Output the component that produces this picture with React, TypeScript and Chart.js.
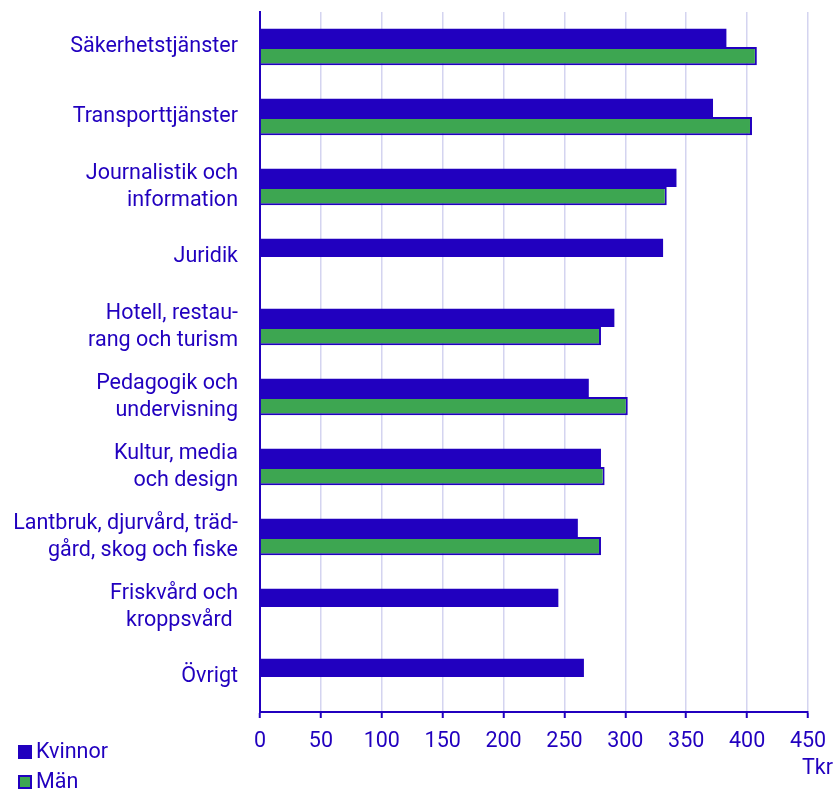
import React, { useEffect, useRef } from "react";
import { Chart, registerables } from "chart.js";

Chart.register(...registerables);

const categories: (string | string[])[] = [
  "Säkerhetstjänster",
  "Transporttjänster",
  ["Journalistik och", "information"],
  "Juridik",
  ["Hotell, restau-", "rang och turism"],
  ["Pedagogik och", "undervisning"],
  ["Kultur, media", "och design"],
  ["Lantbruk, djurvård, träd-", "gård, skog och fiske"],
  ["Friskvård och", "kroppsvård "],
  "Övrigt",
];

const kvinnor: (number | null)[] = [383, 372, 342, 331, 291, 270, 280, 261, 245, 266];
const man: (number | null)[] = [408, 404, 334, null, 280, 302, 283, 280, null, null];

const xTicks = [0, 50, 100, 150, 200, 250, 300, 350, 400, 450];
const unitLabel = "Tkr";

const BLUE = "#2100BF";
const GREEN = "#3DA651";
const GRID = "#D4D4F0";
const FONT = "Roboto";
const FS = 21.5;

const overlayPlugin = {
  id: "overlay",
  afterDraw(chart: any) {
    const ctx = chart.ctx;
    ctx.save();
    ctx.font = `${FS}px ${FONT}`;
    ctx.textBaseline = "middle";
    ctx.textAlign = "left";
    chart.data.datasets.forEach((ds: any, i: number) => {
      const y = 752 + i * 30;
      ctx.fillStyle = ds.backgroundColor;
      ctx.fillRect(18, y - 7, 14, 14);
      if (ds.borderWidth) {
        ctx.strokeStyle = ds.borderColor;
        ctx.lineWidth = 2;
        ctx.strokeRect(19, y - 6, 12, 12);
      }
      ctx.fillStyle = BLUE;
      ctx.fillText(ds.label, 36, y + 1);
    });
    ctx.fillText(unitLabel, 802, 769);
    ctx.restore();
  },
};

export default function App() {
  const ref = useRef<HTMLCanvasElement>(null);
  useEffect(() => {
    if (!ref.current) return;
    const chart = new Chart(ref.current, {
      type: "bar",
      data: {
        labels: categories,
        datasets: [
          {
            label: "Kvinnor",
            data: kvinnor,
            backgroundColor: BLUE,
            borderColor: BLUE,
            borderWidth: 0,
            categoryPercentage: 0.52,
            barPercentage: 1,
          },
          {
            label: "Män",
            data: man,
            backgroundColor: GREEN,
            borderColor: BLUE,
            borderWidth: 2,
            categoryPercentage: 0.52,
            barPercentage: 1,
          },
        ],
      },
      options: {
        indexAxis: "y",
        responsive: false,
        animation: false,
        layout: { padding: { top: 12, right: 26, left: 0, bottom: 0 } },
        plugins: {
          legend: { display: false },
          tooltip: { enabled: false },
        },
        scales: {
          x: {
            min: 0,
            max: 450,
            afterBuildTicks: (scale: any) => {
              scale.ticks = xTicks.map((v) => ({ value: v }));
            },
            afterFit: (scale: any) => {
              scale.height = 78;
              scale.paddingLeft = 0;
              scale.paddingRight = 0;
            },
            grid: {
              display: true,
              color: GRID,
              lineWidth: 1.5,
              drawTicks: true,
              tickLength: 6,
              tickColor: BLUE,
              tickWidth: 2,
            },
            border: { display: true, color: BLUE, width: 2 },
            ticks: {
              color: BLUE,
              font: { family: FONT, size: FS },
              padding: 11,
              maxRotation: 0,
            },
          },
          y: {
            afterFit: (scale: any) => {
              scale.width = 260;
              scale.paddingTop = 0;
              scale.paddingBottom = 0;
            },
            grid: { display: false, drawTicks: false },
            border: { display: true, color: BLUE, width: 2 },
            ticks: {
              color: BLUE,
              font: { family: FONT, size: FS, lineHeight: 1.28 },
              padding: 22,
              autoSkip: false,
            },
          },
        },
      },
      plugins: [overlayPlugin],
    } as any);
    return () => chart.destroy();
  }, []);
  return (
    <div style={{ position: "absolute", left: 0, top: 0, width: 834, height: 790 }}>
      <canvas ref={ref} width={834} height={790} />
    </div>
  );
}
